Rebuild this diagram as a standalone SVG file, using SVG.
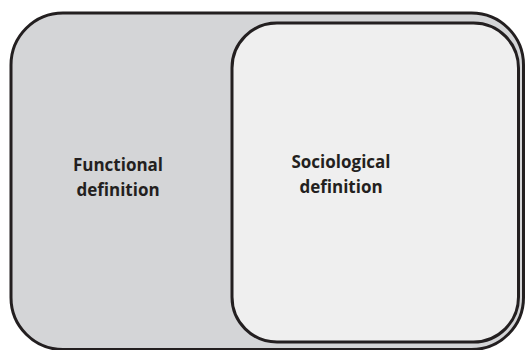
<svg xmlns="http://www.w3.org/2000/svg" width="525" height="350" viewBox="0 0 525 350">
  <style>
    .box { stroke: #231f20; stroke-width: 3; }
    .lbl { font-family: "Open Sans", "Liberation Sans", sans-serif; font-weight: 700; font-size: 17px; fill: #231f20; text-anchor: middle; }
  </style>
  <rect width="525" height="350" fill="#ffffff"/>
  <g id="functional">
    <rect class="box" x="11" y="13" width="512.5" height="336.5" rx="52" ry="52" fill="#d4d5d7"/>
    <text class="lbl" x="118" y="171">Functional</text>
    <text class="lbl" x="118" y="196">definition</text>
  </g>
  <g id="sociological">
    <rect class="box" x="232" y="23" width="286.5" height="319" rx="45" ry="45" fill="#efefef"/>
    <text class="lbl" x="341" y="168">Sociological</text>
    <text class="lbl" x="341" y="193">definition</text>
  </g>
  <g id="connectors"></g>
</svg>
